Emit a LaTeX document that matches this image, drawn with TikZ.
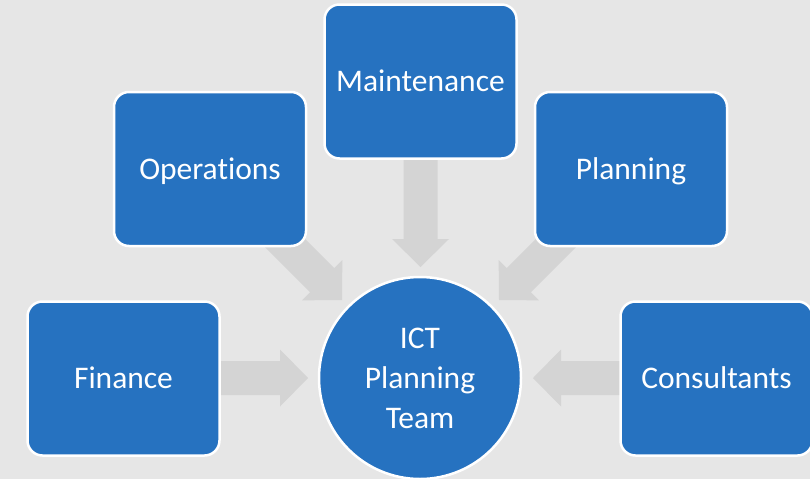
\documentclass[tikz,border=0pt]{standalone}
\usepackage{fontspec}
\setmainfont[Ligatures={NoCommon}]{Carlito}
\definecolor{bgcol}{HTML}{E6E6E6}
\definecolor{boxblue}{HTML}{2672C0}
\definecolor{arrowgray}{HTML}{D4D4D4}
\tikzset{
  unitbox/.style={draw=white, line width=2.5pt, fill=boxblue, rounded corners=15pt,
    minimum width=192pt, minimum height=154pt, text=white,
    font=\fontsize{31.5}{40}\selectfont, text height=20pt, text depth=0pt},
  hubcircle/.style={circle, draw=white, line width=2.5pt, fill=boxblue,
    minimum size=202pt, inner sep=0pt},
  hublabel/.style={text=white, align=center, font=\fontsize{31.5}{40}\selectfont},
  blockarrow/.style={fill=arrowgray}
}
% block arrow pointing along +x with its tip at the origin; #1 = total length
\newcommand{\blockarrowshape}[1]{(0,0) -- (-28,28.5) -- (-28,17) -- (-#1,17) -- (-#1,-17) -- (-28,-17) -- (-28,-28.5) -- cycle}
\begin{document}
\begin{tikzpicture}[x=1pt, y=-1pt]
  \fill[bgcol] (0,0) rectangle (810,479);
  \useasboundingbox (0,0) rectangle (810,479);

  % arrow tips pointing at the hub
  \coordinate (tipF) at (308,378);
  \coordinate (tipC) at (533,378);
  \coordinate (tipM) at (420.5,267);
  \coordinate (tipO) at (342,300);
  \coordinate (tipP) at (499,300);

  % block arrows (drawn first so the boxes cover their tails)
  \begin{scope}[shift={(tipF)}] \fill[blockarrow] \blockarrowshape{95}; \end{scope}
  \begin{scope}[shift={(tipC)}, rotate=180] \fill[blockarrow] \blockarrowshape{95}; \end{scope}
  \begin{scope}[shift={(tipM)}, rotate=-90] \fill[blockarrow] \blockarrowshape{115}; \end{scope}
  \begin{scope}[shift={(tipO)}, rotate=-45] \fill[blockarrow] \blockarrowshape{105}; \end{scope}
  \begin{scope}[shift={(tipP)}, rotate=-135] \fill[blockarrow] \blockarrowshape{105}; \end{scope}

  % outer units
  \node[unitbox] (fin) at (123.5,378.5) {Finance};
  \node[unitbox] (ops) at (210,169) {Operations};
  \node[unitbox] (mnt) at (420.5,81.5) {Maintenance};
  \node[unitbox] (pln) at (631,169) {Planning};
  \node[unitbox] (con) at (716.5,378.5) {Consultants};

  % central team
  \node[hubcircle] (ict) at (420,378) {};
  \node[hublabel] at (ict.center) {ICT\\Planning\\Team};
\end{tikzpicture}
\end{document}
